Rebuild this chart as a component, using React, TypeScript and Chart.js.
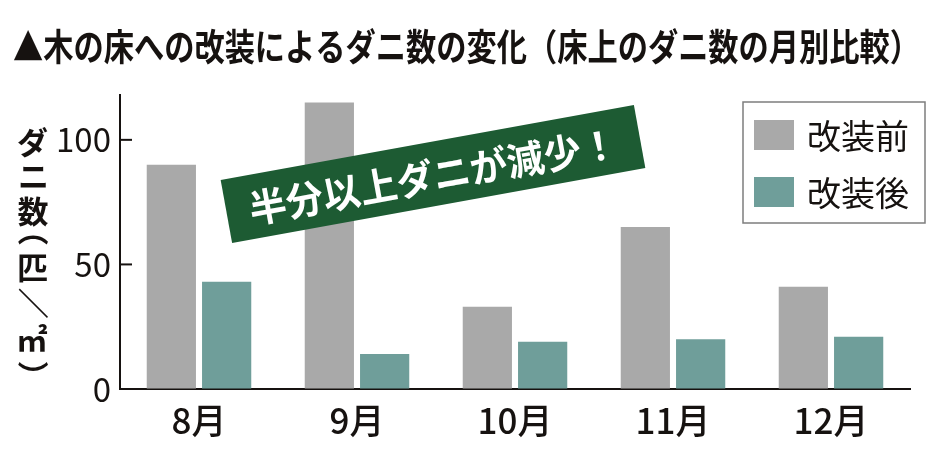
import { useEffect, useRef } from 'react';
import { Chart, registerables, type Plugin } from 'chart.js';

Chart.register(...registerables);

const MONTHS = ['8月', '9月', '10月', '11月', '12月'];
const BEFORE = [90, 115, 33, 65, 41];
const AFTER = [43, 14, 19, 20, 21];
const SERIES_LABELS = ['改装前', '改装後'];
const Y_TICKS = [0, 50, 100];
const TITLE = '▲木の床への改装によるダニ数の変化（床上のダニ数の月別比較）';
const Y_TITLE = 'ダニ数（匹／㎡）';
const CALLOUT = '半分以上ダニが減少！';

const FONT = '"Noto Sans CJK JP", "Noto Sans", sans-serif';
const GREY = '#a9a9a9';
const TEAL = '#6f9e9a';
const GREEN = '#1d5b33';
const INK = '#161210';

// chars drawn sideways in vertical writing
const ROTATED = new Set(['（', '）', '／']);
const PARENS = new Set(['（', '）']);

// draw one glyph with its ink centred on (x, y)
function inkCentered(ctx: CanvasRenderingContext2D, ch: string, x: number, y: number, rot: number) {
  const m = ctx.measureText(ch);
  const cx = (m.actualBoundingBoxRight - m.actualBoundingBoxLeft) / 2;
  const cy = (m.actualBoundingBoxDescent - m.actualBoundingBoxAscent) / 2;
  ctx.save();
  ctx.translate(x, y);
  ctx.rotate(rot);
  ctx.fillText(ch, -cx, -cy);
  ctx.restore();
}

const decorations: Plugin<'bar'> = {
  id: 'decorations',
  afterDraw(chart) {
    const { ctx, chartArea, scales } = chart;
    const y = scales.y;
    ctx.save();
    ctx.fillStyle = INK;

    // title, condensed to fit
    ctx.font = `bold 37px ${FONT}`;
    ctx.textAlign = 'left';
    ctx.textBaseline = 'middle';
    const tw = ctx.measureText(TITLE).width;
    ctx.save();
    ctx.translate(13, 47);
    ctx.scale(Math.min(1, 907 / tw), 1);
    ctx.fillText(TITLE, 0, 0);
    ctx.restore();

    // vertical y-axis title
    ctx.font = `bold 31px ${FONT}`;
    ctx.textAlign = 'left';
    ctx.textBaseline = 'alphabetic';
    let top = 125;
    Array.from(Y_TITLE).forEach((ch) => {
      const h = PARENS.has(ch) ? 23 : 34.5;
      inkCentered(ctx, ch, 33, top + h / 2, ROTATED.has(ch) ? Math.PI / 2 : 0);
      top += h;
    });

    // inward tick marks on the y axis
    ctx.strokeStyle = INK;
    ctx.lineWidth = 2;
    Y_TICKS.filter((v) => v > 0).forEach((v) => {
      const py = y.getPixelForValue(v);
      ctx.beginPath();
      ctx.moveTo(chartArea.left, py);
      ctx.lineTo(chartArea.left + 12, py);
      ctx.stroke();
    });

    // legend box
    ctx.strokeStyle = '#7d7d7d';
    ctx.lineWidth = 1.5;
    ctx.strokeRect(743, 102, 182, 121);
    ctx.font = `34px ${FONT}`;
    ctx.textBaseline = 'middle';
    chart.data.datasets.forEach((ds, i) => {
      const cy = 135 + i * 57;
      ctx.fillStyle = ds.backgroundColor as string;
      ctx.fillRect(754, cy - 15, 40, 30);
      ctx.fillStyle = INK;
      ctx.fillText(ds.label ?? '', 807, cy + 1);
    });

    // green callout banner
    ctx.save();
    ctx.translate(433, 174);
    ctx.rotate((-10.3 * Math.PI) / 180);
    ctx.fillStyle = GREEN;
    ctx.fillRect(-210, -32, 420, 64);
    ctx.fillStyle = '#ffffff';
    ctx.font = `bold 39px ${FONT}`;
    ctx.textAlign = 'center';
    const cw = ctx.measureText(CALLOUT).width;
    ctx.scale(Math.min(1, 374 / cw), 1);
    ctx.fillText(CALLOUT, 0, 2);
    ctx.restore();

    ctx.restore();
  },
};

export default function App() {
  const canvasRef = useRef<HTMLCanvasElement>(null);

  useEffect(() => {
    document.body.style.margin = '0';
    if (!canvasRef.current) return;
    const chart = new Chart(canvasRef.current, {
      type: 'bar',
      data: {
        labels: MONTHS,
        datasets: [
          { label: SERIES_LABELS[0], data: BEFORE, backgroundColor: GREY },
          { label: SERIES_LABELS[1], data: AFTER, backgroundColor: TEAL },
        ],
      },
      options: {
        animation: false,
        responsive: true,
        maintainAspectRatio: false,
        layout: { padding: { top: 95, right: 30, left: 0, bottom: 0 } },
        datasets: { bar: { categoryPercentage: 0.7, barPercentage: 0.89 } },
        plugins: {
          legend: { display: false },
          title: { display: false },
          tooltip: { enabled: false },
        },
        scales: {
          x: {
            z: 1,
            grid: { display: false, drawTicks: false },
            border: { display: true, color: INK, width: 2 },
            ticks: { color: INK, font: { family: FONT, size: 35, weight: 500 }, padding: 11 },
            afterFit: (s) => {
              s.height = 81;
            },
          },
          y: {
            z: 1,
            min: 0,
            max: 118,
            grid: { drawOnChartArea: false, drawTicks: false },
            border: { display: true, color: INK, width: 2 },
            ticks: {
              stepSize: 50,
              color: INK,
              font: { family: FONT, size: 33 },
              padding: 9,
            },
            afterBuildTicks: (s) => {
              s.ticks = Y_TICKS.map((v) => ({ value: v }));
            },
            afterFit: (s) => {
              s.width = 120;
            },
          },
        },
      },
      plugins: [decorations],
    });
    return () => chart.destroy();
  }, []);

  return (
    <div style={{ position: 'relative', width: 940, height: 470, background: '#fff' }}>
      <canvas ref={canvasRef} role="img" aria-label={TITLE} />
    </div>
  );
}
